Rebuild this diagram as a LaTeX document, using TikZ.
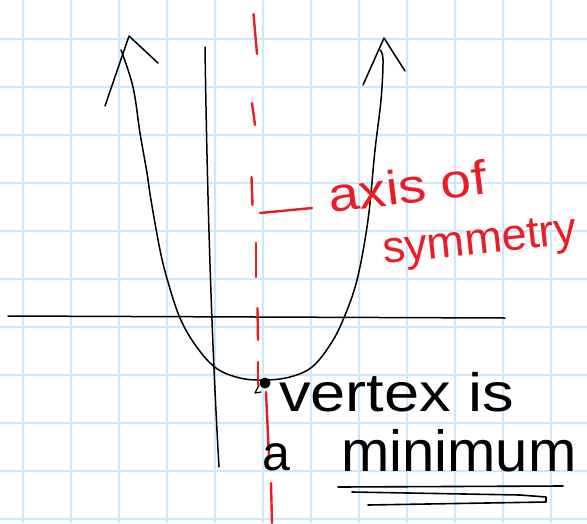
\documentclass[tikz,border=0pt]{standalone}
\usepackage{fontspec}
\setmainfont{Liberation Sans}
\definecolor{gridblue}{RGB}{204,232,250}
\definecolor{penred}{RGB}{236,28,36}
\tikzset{
  gridline/.style={draw=gridblue, line width=1.4pt},
  ink/.style={draw=black, line width=1.5pt, line cap=round, line join=round},
  redink/.style={draw=penred, line width=2.4pt, line cap=round},
  blacktext/.style={text=black, inner sep=0pt},
  redtext/.style={text=penred, inner sep=0pt}
}
\begin{document}
\begin{tikzpicture}[x=1pt,y=-1pt]
\useasboundingbox (0,0) rectangle (587,523);
\fill[white] (0,0) rectangle (587,523);
% grid
\foreach \gx in {23,71,...,599} \draw[gridline] (\gx,0) -- (\gx,523);
\foreach \gy in {39,87,...,523} \draw[gridline] (0,\gy) -- (587,\gy);
% axes
\coordinate (xl) at (8,316);
\coordinate (xr) at (505,318);
\draw[ink] (xl) -- (xr);
\coordinate (yt) at (205,47);
\coordinate (yb) at (219,467);
\draw[ink] (yt) .. controls (208,250) and (214,380) .. (yb);
% parabola
\draw[ink] plot[smooth, tension=0.6] coordinates {(121,50) (133,87) (140,133) (147,173) (151,200) (160,250) (168,282) (180,318) (196,346) (216,368) (240,378) (265,380) (290,377) (312,367) (330,345) (343,320) (357,280) (368,220) (375,150) (381,100) (383,60) (380,50)};
% arrowheads
\coordinate (la) at (129,36);
\draw[ink] (105,106) -- (la) -- (158,63);
\coordinate (ra) at (384,38);
\draw[ink] (363,85) -- (ra) -- (405,71);
% vertex
\node[circle, fill=black, inner sep=0pt, minimum size=11pt] (vx) at (265,383) {};
\draw[ink, line width=1.2pt] (259,385) -- (255,393) -- (261,392);
% axis of symmetry (red dashes)
\draw[redink] (253.5,14) -- (257,54);
\draw[redink] (252,103) -- (255,125);
\draw[redink] (251.5,177) -- (252.5,205);
\draw[redink] (256,243) -- (256,277);
\draw[redink] (257.5,308) -- (258,340);
\draw[redink] (258,362) -- (258,385);
\draw[redink] (266,392) -- (269,457);
\draw[redink] (271,483) -- (272,523);
\coordinate (rl) at (260,213);
\coordinate (rr) at (312,208);
\draw[redink] (rl) -- (rr);
% labels
\node[redtext, anchor=base west, rotate=7] (t1) at (330,213) {\fontsize{48}{52}\selectfont\scalebox{1.15}[1]{axis of}};
\node[redtext, anchor=base west, rotate=6] (t2) at (384,264) {\fontsize{45}{50}\selectfont symmetry};
\node[blacktext, anchor=base west] (t3) at (279,411) {\fontsize{54}{60}\selectfont\scalebox{1.17}[1]{vertex is}};
\node[blacktext, anchor=base west] (t4) at (262,470) {\fontsize{50}{56}\selectfont a};
\node[blacktext, anchor=base west] (t5) at (341,471) {\fontsize{58}{64}\selectfont minimum};
% underline strokes
\draw[ink, line width=1.6pt] (338,487) -- (563,486);
\draw[ink, line width=1.6pt] (352,492) -- (520,495) -- (546,497) -- (546,502) -- (368,505);
\end{tikzpicture}
\end{document}
